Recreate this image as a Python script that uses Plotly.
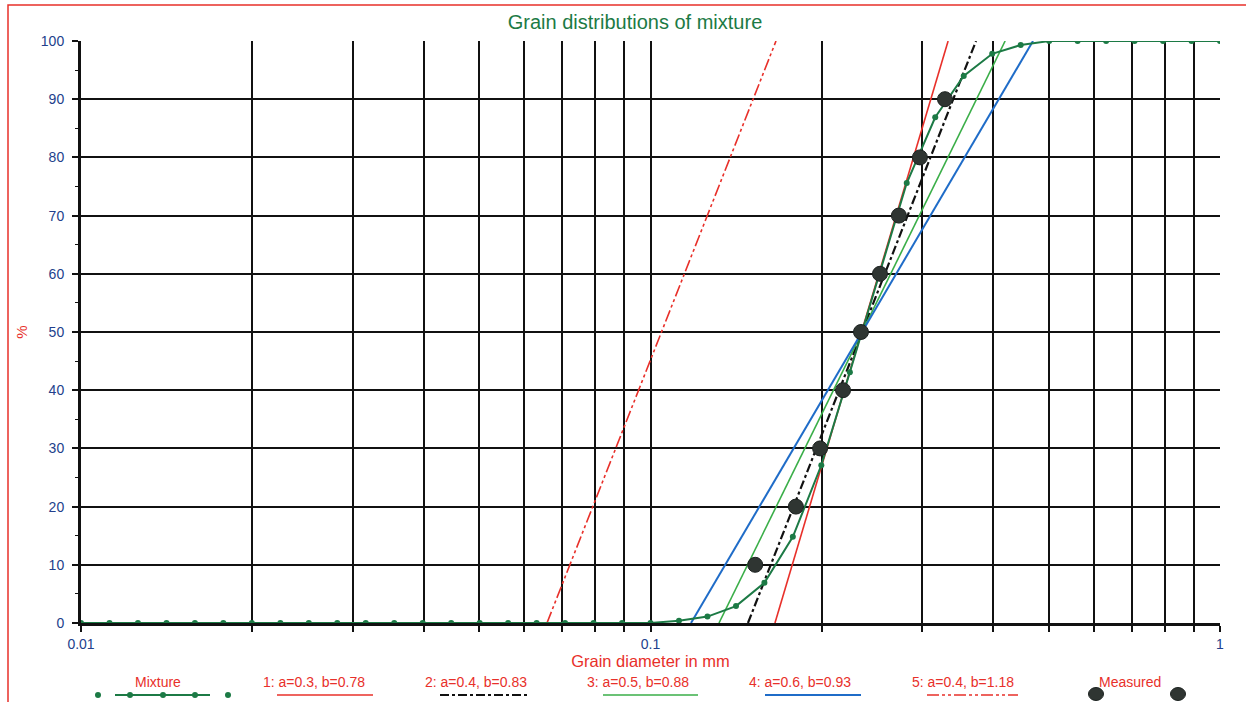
import numpy as np
import plotly.graph_objects as go

# ---------------- data ----------------
# Mixture: sieve sizes (mm) on a log-spaced grid and passing percentages
mix_d = [0.01, 0.01122, 0.01259, 0.01413, 0.01585, 0.01778, 0.01995, 0.02239, 0.02512, 0.02818,
         0.03162, 0.03548, 0.03981, 0.04467, 0.05012, 0.05623, 0.0631, 0.07079, 0.07943, 0.08913,
         0.1, 0.1122, 0.1259, 0.1413, 0.1585, 0.1778, 0.1995, 0.2239, 0.2512, 0.2818,
         0.3162, 0.3548, 0.3981, 0.4467, 0.5012, 0.5623, 0.631, 0.7079, 0.7943, 0.8913, 1.0]
mix_p = [0, 0, 0, 0, 0, 0, 0, 0, 0, 0,
         0, 0, 0, 0, 0, 0, 0, 0, 0, 0,
         0, 0.4, 1.1, 2.9, 6.9, 14.8, 27.1, 43.1, 59.5, 75.6,
         86.9, 94.0, 97.8, 99.3, 100, 100, 100, 100, 100, 100, 100]

# Measured points
meas_d = [0.1527, 0.180, 0.1985, 0.2178, 0.2342, 0.2529, 0.273, 0.2972, 0.3289]
meas_p = [10, 20, 30, 40, 50, 60, 70, 80, 90]

# Fitted lines: grain size at 0 % and at 100 %
fit_names = ["1: a=0.3, b=0.78", "2: a=0.4, b=0.83", "3: a=0.5, b=0.88",
             "4: a=0.6, b=0.93", "5: a=0.4, b=1.18"]
fit_d0 = [0.1654, 0.1483, 0.1319, 0.1178, 0.0658]
fit_d100 = [0.3331, 0.3729, 0.4195, 0.4695, 0.1661]
fit_p = [0, 100]

x_tickvals = [0.01, 0.02, 0.03, 0.04, 0.05, 0.06, 0.07, 0.08, 0.09,
              0.1, 0.2, 0.3, 0.4, 0.5, 0.6, 0.7, 0.8, 0.9, 1]
x_ticklabels = {0.01: "0.01", 0.1: "0.1", 1: "1"}

# ---------------- styles ----------------
FONT = "Liberation Sans, Arial, sans-serif"
RED = "#e8302a"
DKGREEN = "#1c7a45"
LTGREEN = "#3aae48"
BLUE = "#1f6cc8"
TICKBLUE = "#233f8c"
MEAS = "#2f3532"

fit_styles = [
    dict(color=RED, width=1.6, dash="solid"),
    dict(color="#111111", width=2.2, dash="dashdot"),
    dict(color=LTGREEN, width=1.6, dash="solid"),
    dict(color=BLUE, width=2.0, dash="solid"),
    dict(color=RED, width=1.6, dash="12px,3px,3px,3px,3px,3px"),
]

fig = go.Figure()
for name, d0, d1, st in zip(fit_names, fit_d0, fit_d100, fit_styles):
    fig.add_trace(go.Scatter(x=[d0, d1], y=fit_p, mode="lines", name=name,
                             line=st, showlegend=False))

fig.add_trace(go.Scatter(x=mix_d, y=mix_p, mode="lines+markers", name="Mixture",
                         line=dict(color=DKGREEN, width=2),
                         marker=dict(color=DKGREEN, size=6), showlegend=False))
fig.add_trace(go.Scatter(x=meas_d, y=meas_p, mode="markers", name="Measured",
                         marker=dict(color=MEAS, size=15, line=dict(color="#1c2220", width=1)),
                         showlegend=False))

# ---------------- layout ----------------
W, H = 1246, 702
L, R, T, B = 81, 26, 41, 79
pw, ph = W - L - R, H - T - B


def px_x(x):
    return (x - L) / pw


def px_y(y):
    return 1 - (y - T) / ph


fig.update_layout(
    width=W, height=H,
    margin=dict(l=L, r=R, t=T, b=B),
    paper_bgcolor="white", plot_bgcolor="white",
    font=dict(family=FONT, size=14, color=TICKBLUE),
    title=dict(text="Grain distributions of mixture", xref="container", yref="container",
               x=635 / W, y=1 - 22 / H, xanchor="center", yanchor="middle",
               font=dict(family=FONT, size=20, color=DKGREEN)),
    showlegend=False,
)

fig.update_xaxes(
    type="log", range=[-2, 0],
    tickvals=x_tickvals,
    ticktext=[x_ticklabels.get(v, "") for v in x_tickvals],
    showgrid=True, gridcolor="#111111", gridwidth=1.5,
    showline=True, linecolor="#111111", linewidth=3,
    ticks="outside", ticklen=6, tickwidth=1.5, tickcolor="#111111",
    tickfont=dict(family=FONT, size=14, color=TICKBLUE),
    title=dict(text="Grain diameter in mm", standoff=2,
               font=dict(family=FONT, size=16.5, color=RED)),
    zeroline=False,
)
fig.update_yaxes(
    range=[0, 100], dtick=10, tick0=0,
    showgrid=True, gridcolor="#111111", gridwidth=2,
    showline=True, linecolor="#111111", linewidth=3,
    ticks="outside", ticklen=6, tickwidth=1.5, tickcolor="#111111",
    ticklabelstandoff=5,
    minor=dict(dtick=5, ticks="outside", ticklen=3, tickwidth=1.2, tickcolor="#111111", showgrid=False),
    tickfont=dict(family=FONT, size=14, color=TICKBLUE),
    title=dict(text="%", standoff=10, font=dict(family=FONT, size=15, color=RED)),
    zeroline=False,
)

shapes = []
annotations = []

# red outer frame
shapes.append(dict(type="rect", xref="paper", yref="paper",
                   x0=px_x(8), x1=px_x(1252), y0=px_y(708), y1=px_y(5),
                   line=dict(color=RED, width=1.5), fillcolor="rgba(0,0,0,0)", layer="below"))

# ---------------- custom legend ----------------
lab_y = px_y(682)
sym_y = px_y(695)
legend_items = [
    ("Mixture", 158),
    (fit_names[0], 314),
    (fit_names[1], 476),
    (fit_names[2], 638),
    (fit_names[3], 800),
    (fit_names[4], 963),
    ("Measured", 1130),
]
for text, cx in legend_items:
    annotations.append(dict(text=text, xref="paper", yref="paper", x=px_x(cx), y=lab_y,
                            xanchor="center", yanchor="middle", showarrow=False,
                            font=dict(family=FONT, size=14, color=RED)))

# Mixture sample: line with dots, plus separate end dots
shapes.append(dict(type="line", xref="paper", yref="paper", x0=px_x(115), x1=px_x(210),
                   y0=sym_y, y1=sym_y, line=dict(color=DKGREEN, width=2)))
for cx in [98, 130, 163, 195, 228]:
    r = 3
    shapes.append(dict(type="circle", xref="paper", yref="paper",
                       x0=px_x(cx - r), x1=px_x(cx + r), y0=px_y(695 + r), y1=px_y(695 - r),
                       line=dict(color=DKGREEN, width=0), fillcolor=DKGREEN))

# Fit samples
fit_legend_px = [(277, 373), (440, 530), (603, 698), (765, 861), (927, 1018)]
for (a, b), st in zip(fit_legend_px, fit_styles):
    shapes.append(dict(type="line", xref="paper", yref="paper", x0=px_x(a), x1=px_x(b),
                       y0=sym_y, y1=sym_y, line=st))

# Measured sample
for cx in [1096, 1178]:
    rx, ry = 7.5, 6.5
    shapes.append(dict(type="circle", xref="paper", yref="paper",
                       x0=px_x(cx - rx), x1=px_x(cx + rx), y0=px_y(694 + ry), y1=px_y(694 - ry),
                       line=dict(color="#1c2220", width=1), fillcolor=MEAS))

fig.update_layout(shapes=shapes, annotations=annotations)

fig.write_html("out.html",
               config={"displayModeBar": False},
               post_script="document.body.style.margin='0';document.body.style.overflow='hidden';")
